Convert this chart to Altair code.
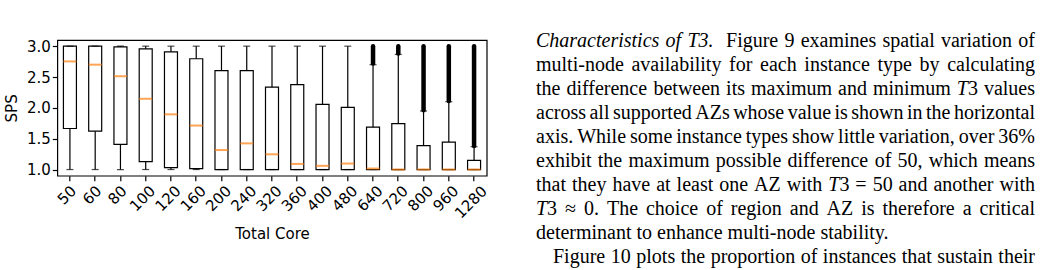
import altair as alt
import pandas as pd

# ---------------- box plot data ----------------
cores = ["50", "60", "80", "100", "120", "160", "200", "240", "320", "360",
         "400", "480", "640", "720", "800", "960", "1280"]
q1 = [1.665, 1.622, 1.408, 1.129, 1.03, 1.016, 1.0, 1.0, 1.0, 1.0,
      1.0, 1.0, 1.0, 1.0, 1.0, 1.0, 1.0]
median = [2.753, 2.70, 2.512, 2.147, 1.895, 1.713, 1.316, 1.424, 1.247, 1.091,
          1.06, 1.097, 1.016, 1.0, 1.0, 1.0, 1.0]
q3 = [3.0, 3.0, 2.99, 2.957, 2.909, 2.796, 2.603, 2.603, 2.335, 2.378,
      2.056, 2.008, 1.686, 1.745, 1.386, 1.445, 1.15]
whisk_lo = [1.0] * 17
whisk_hi = [3.0, 3.0, 3.0, 3.0, 3.0, 3.0, 3.0, 3.0, 3.0, 3.0,
            3.0, 3.0, 2.70, 2.866, 1.949, 2.10, 1.37]
flier_lo = [None] * 12 + [2.72, 2.88, 1.96, 2.11, 1.38]
flier_hi = [None] * 12 + [3.0, 3.0, 3.0, 3.0, 3.0]
y_ticks = [1.0, 1.5, 2.0, 2.5, 3.0]

# ---------------- paragraph text on the right ----------------
para_lines = [
    "*Characteristics* *of* *T3.*  Figure 9 examines spatial variation of",
    "multi-node availability for each instance type by calculating",
    "the difference between its maximum and minimum *T*3 values",
    "across all supported AZs whose value is shown in the horizontal",
    "axis. While some instance types show little variation, over 36%",
    "exhibit the maximum possible difference of 50, which means",
    "that they have at least one AZ with *T*3 = 50 and another with",
    "*T*3 \u2248 0. The choice of region and AZ is therefore a critical",
    "determinant to enhance multi-node stability.",
    "Figure 10 plots the proportion of instances that sustain their",
]
justify = [True, True, True, True, True, True, True, True, False, True]
indent = [0, 0, 0, 0, 0, 0, 0, 0, 0, 1]

# ---------------- layout constants ----------------
W, H = 1047, 270
PL, PT = 57.3, 40.0
PW, PH = 429.4, 135.7
FS = 20
TEXT_LEFT, TEXT_RIGHT = 536.0, 1035.0
BASE0, LEAD = 46.5, 24.1
INDENT_PX = 17.0

# Times-compatible advance widths (1/1000 em)
ROMAN = dict(zip("abcdefghijklmnopqrstuvwxyz",
                 [444, 500, 444, 500, 444, 333, 500, 500, 278, 278, 500, 278, 778,
                  500, 500, 500, 500, 333, 389, 278, 500, 500, 722, 500, 500, 444]))
ROMAN.update(dict(zip("ABCDEFGHIJKLMNOPQRSTUVWXYZ",
                      [722, 667, 667, 722, 611, 556, 722, 722, 333, 389, 722, 611, 889,
                       722, 722, 556, 722, 667, 556, 611, 722, 722, 944, 722, 722, 611])))
ROMAN.update({c: 500 for c in "0123456789"})
ROMAN.update({" ": 250, ".": 250, ",": 250, "-": 333, "%": 833, "=": 564, "\u2248": 549})
ITAL = dict(ROMAN)
ITAL.update(dict(zip("abcdefghijklmnopqrstuvwxyz",
                     [500, 500, 444, 500, 444, 278, 500, 500, 278, 278, 444, 278, 722,
                      500, 500, 500, 500, 389, 389, 278, 500, 444, 667, 444, 444, 389])))
ITAL.update({"T": 556, "C": 667})


def seg_w(t, it):
    tab = ITAL if it else ROMAN
    return sum(tab.get(c, 500) for c in t) * FS / 1000.0


rows = []
for i, line in enumerate(para_lines):
    words, gaps, pending = [], [], 0
    for tok in line.split(" "):
        if tok == "":
            pending += 1
            continue
        if words:
            gaps.append(1 + pending)
        pending = 0
        parts = tok.split("*")
        segs = [(p, k % 2 == 1) for k, p in enumerate(parts) if p]
        words.append(segs)
    left = TEXT_LEFT + INDENT_PX * indent[i]
    wsum = sum(seg_w(t, it) for w in words for t, it in w)
    if justify[i]:
        unit = (TEXT_RIGHT - left - wsum) / sum(gaps)
    else:
        unit = 250 * FS / 1000.0
    x = left
    y = BASE0 + LEAD * i
    for k, w in enumerate(words):
        for t, it in w:
            rows.append({"x": x, "y": y, "t": t, "s": "italic" if it else "normal"})
            x += seg_w(t, it)
        if k < len(gaps):
            x += unit * gaps[k]
tdf = pd.DataFrame(rows)

df = pd.DataFrame({"core": cores, "q1": q1, "med": median, "q3": q3,
                   "lo": whisk_lo, "hi": whisk_hi, "flo": flier_lo, "fhi": flier_hi})

FONT = "DejaVu Sans"
xaxis = alt.Axis(
    title="Total Core", labelAngle=315, labelAlign="center", labelBaseline="middle",
    labelPadding={"condition": [{"test": "length(datum.label) == 2", "value": 14},
                                {"test": "length(datum.label) == 4", "value": 21}],
                  "value": 17.5},
    labelOffset=-3, labelOverlap=False, labelFont=FONT, labelFontSize=15,
    labelColor="black", titleFont=FONT, titleFontSize=15, titleFontWeight="normal",
    titleColor="black", titleX=PW / 2, titleY=62.5, titleAlign="center",
    titleBaseline="alphabetic", tickSize=5, tickColor="black", tickWidth=1.2,
    domain=False, grid=False)
yaxis = alt.Axis(
    title="SPS", values=y_ticks, format=".1f", labelFont=FONT, labelFontSize=15,
    labelColor="black", labelPadding=2, titleFont=FONT, titleFontSize=15,
    titleFontWeight="normal", titleColor="black", titleAngle=270, titleX=-46,
    titleY=PH / 2, titleAlign="center", titleBaseline="middle", tickSize=5,
    tickColor="black", tickWidth=1.2, domain=False, grid=False)

X = alt.X("core:N", sort=cores, axis=xaxis,
          scale=alt.Scale(domain=cores, paddingInner=0, paddingOuter=0))
yscale = alt.Scale(domain=[0.9, 3.1], nice=False, zero=False)


def Y(f):
    return alt.Y(f"{f}:Q", scale=yscale, axis=yaxis)


base = alt.Chart(df)
box = base.mark_bar(size=13, fill="white", stroke="black", strokeWidth=1.2).encode(
    x=X, y=Y("q1"), y2="q3:Q")
w_lo = base.mark_rule(color="black", strokeWidth=1.2).encode(x=X, y=Y("lo"), y2="q1:Q")
w_hi = base.mark_rule(color="black", strokeWidth=1.2).encode(x=X, y=Y("q3"), y2="hi:Q")
c_lo = base.mark_tick(size=7, thickness=1.2, color="black").encode(x=X, y=Y("lo"))
c_hi = base.mark_tick(size=7, thickness=1.2, color="black").encode(x=X, y=Y("hi"))
med = base.mark_tick(size=13, thickness=2, color="#ff7f0e").encode(x=X, y=Y("med"))
fl = base.transform_filter("isValid(datum.flo)").mark_rule(
    strokeWidth=4.5, strokeCap="round", color="black").encode(x=X, y=Y("flo"), y2="fhi:Q")

boxplot = alt.layer(box, w_lo, w_hi, c_lo, c_hi, med, fl)

tx = alt.X("x:Q", scale=alt.Scale(domain=[0, W], range=[-PL, W - PL], nice=False, zero=False), axis=None)
ty = alt.Y("y:Q", scale=alt.Scale(domain=[0, H], range=[-PT, H - PT], nice=False, zero=False), axis=None)
tbase = alt.Chart(tdf).encode(x=tx, y=ty, text="t:N")
t_norm = tbase.transform_filter("datum.s == 'normal'").mark_text(
    align="left", baseline="alphabetic", font="Liberation Serif", fontSize=FS, color="black")
t_ital = tbase.transform_filter("datum.s == 'italic'").mark_text(
    align="left", baseline="alphabetic", font="Liberation Serif", fontSize=FS,
    fontStyle="italic", color="black")
text = alt.layer(t_norm, t_ital)

chart = alt.layer(boxplot, text).resolve_scale(x="independent", y="independent").properties(
    width=PW, height=PH,
    autosize=alt.AutoSizeParams(type="none"),
    padding={"left": PL, "top": PT, "right": W - PL - PW, "bottom": H - PT - PH},
    background="white",
).configure_view(stroke="black", strokeWidth=1.2)

chart.save("out.html", embed_options={"renderer": "svg", "actions": False})
